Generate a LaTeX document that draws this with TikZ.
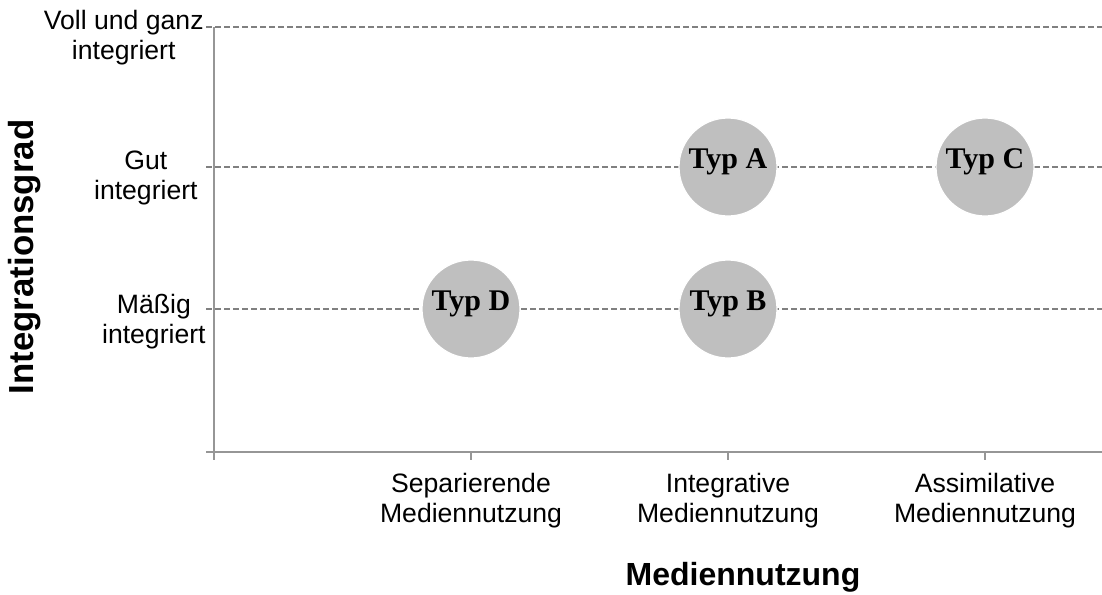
\documentclass[tikz,border=0pt]{standalone}
\usepackage{fontspec}
\setmainfont{Liberation Sans}
\newfontfamily\typfont{Liberation Serif}
\definecolor{kreisgrau}{RGB}{191,191,191}
\definecolor{achsgrau}{RGB}{150,150,150}
\definecolor{gittergrau}{RGB}{128,128,128}
\tikzset{
	achse/.style={draw=achsgrau, line width=1.3pt},
	gitter/.style={draw=gittergrau, line width=0.8pt, dash pattern=on 3pt off 1.5pt},
	typ/.style={circle, fill=kreisgrau, draw=white, line width=0.6pt, minimum size=49pt, inner sep=0pt},
	typtext/.style={font=\typfont\bfseries\fontsize{15}{18}\selectfont, yshift=2.5pt, inner sep=0pt},
	stufe/.style={align=center, inner sep=0pt, font=\fontsize{13.3}{15}\selectfont}
}
\begin{document}
\begin{tikzpicture}[x=0.5pt, y=-0.5pt]
	\useasboundingbox (0,0) rectangle (1102,594);
	
	% 网格线
	\foreach \y/\n in {27/voll, 167/gut, 309/mass} {
		\coordinate (g\n) at (206,\y);
		\coordinate (h\n) at (1102,\y);
		\draw[gitter] (g\n) -- (h\n);
	}
	
	% 坐标轴与刻度
	\coordinate (yo) at (214,27);
	\coordinate (yu) at (214,460);
	\coordinate (xl) at (206,452);
	\coordinate (xr) at (1102,452);
	\draw[achse] (yo) -- (yu);
	\draw[achse] (xl) -- (xr);
	\foreach \x in {471,728,985}
		\draw[achse] (\x,452) -- (\x,460);
	
	% 刻度标签
	\node[stufe] (sep) at (471,501) {Separierende\\Mediennutzung};
	\node[stufe] (int) at (728,501) {Integrative\\Mediennutzung};
	\node[stufe] (ass) at (985,501) {Assimilative\\Mediennutzung};
	\node[stufe, anchor=east] (voll) at (204,38) {Voll und ganz\\integriert};
	\node[stufe, anchor=east] (gut) at (198,178) {Gut\\integriert};
	\node[stufe, anchor=east] (mass) at (206,322) {Mäßig\\integriert};
	
	% 轴标题
	\node[font=\bfseries\fontsize{16}{19}\selectfont] (xtitel) at (743,577) {Mediennutzung};
	\node[rotate=90, font=\bfseries\fontsize{17.4}{20}\selectfont] (ytitel) at (25,257) {Integrationsgrad};
	
	% 类型
	\node[typ] (tA) at (728,167) {};
	\node[typ] (tB) at (728,309) {};
	\node[typ] (tC) at (985,167) {};
	\node[typ] (tD) at (471,309) {};
	\node[typtext] (lA) at (tA) {Typ A};
	\node[typtext] (lB) at (tB) {Typ B};
	\node[typtext] (lC) at (tC) {Typ C};
	\node[typtext] (lD) at (tD) {Typ D};
\end{tikzpicture}
\end{document}
